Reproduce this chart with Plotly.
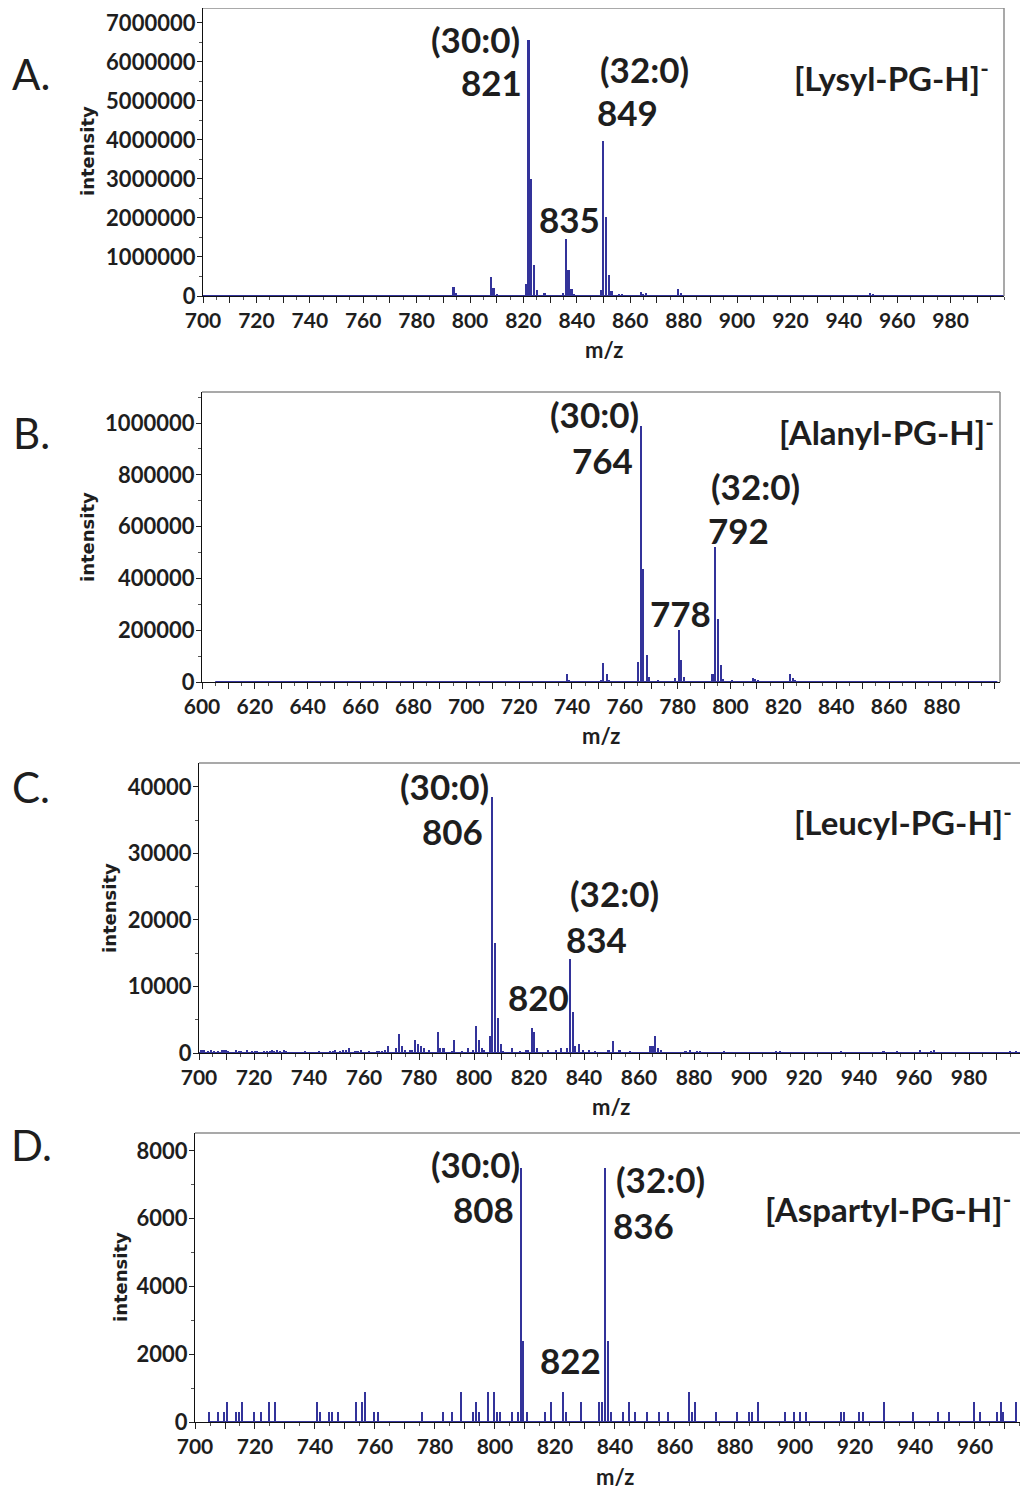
import plotly.graph_objects as go

# page is rendered with an 8px body margin: work in page pixels, shift by 8
OFF = 8
W, H = 1028 - OFF, 1490 - OFF
BAR = "#33339a"
TXT = "#1e1e1e"

# ---------------- data ----------------
A_mz = [793.9, 795.0, 807.9, 808.9, 810.1, 821.1, 822.0, 822.9, 824.0, 825.1,
        828.0, 834.9, 835.9, 837.0, 838.1, 839.0, 849.0, 850.0, 850.9, 852.1,
        853.1, 856.0, 857.0, 864.0, 865.0, 865.9, 878.0, 879.1, 950.0, 950.9]
A_int = [240000, 86000, 488000, 197000, 43000, 300000, 6555000, 2990000, 805000, 154000,
         69000, 69000, 1457000, 660000, 171000, 34000, 163000, 3975000, 2020000, 548000,
         120000, 51000, 34000, 111000, 51000, 69000, 180000, 86000, 68000, 34000]
A_base = [700, 1000]

B_mz = [738.1, 739.1, 751.0, 751.8, 753.2, 754.1, 765.1, 766.1, 767.1, 768.4,
        769.3, 772.5, 779.2, 780.5, 781.2, 782.4, 793.3, 794.3, 795.4, 796.4,
        797.4, 800.7, 808.5, 809.5, 810.5, 822.7, 823.6, 824.6]
B_int = [32000, 6000, 4000, 74000, 30000, 4000, 78000, 988000, 438000, 106000,
         19000, 4000, 14000, 202000, 84000, 19000, 30000, 521000, 244000, 65000,
         12000, 8000, 17000, 12000, 8000, 32000, 14000, 4000]
B_base = [605, 901]

C_mz = [700.7, 701.2, 701.8, 703.4, 704.6, 705.6, 707.0, 708.3, 709.1, 709.8,
        710.7, 713.7, 714.7, 715.5, 717.7, 719.5, 720.4, 721.2, 723.7, 724.9,
        725.8, 726.7, 727.4, 728.6, 729.5, 731.1, 731.9, 738.6, 743.7, 747.7,
        748.7, 749.6, 751.3, 752.5, 753.4, 754.7, 757.0, 757.8, 758.9, 761.8,
        764.7, 765.7, 766.5, 767.7, 768.8, 771.7, 772.8, 773.8, 775.1, 776.8,
        777.7, 778.8, 779.6, 780.7, 781.9, 783.9, 786.9, 787.7, 789.0, 792.0,
        792.8, 795.6, 797.8, 799.9, 800.8, 801.8, 802.9, 803.8, 806.0, 806.8,
        807.8, 808.7, 809.8, 810.8, 813.8, 816.9, 819.1, 819.9, 821.1, 822.0,
        822.9, 826.9, 829.9, 831.7, 833.9, 835.1, 836.0, 836.9, 838.1, 839.9,
        842.0, 844.2, 849.0, 850.8, 853.0, 856.7, 864.2, 865.0, 866.0, 867.0,
        868.1, 877.0, 878.8, 881.2, 882.4, 890.9, 910.0, 911.2, 933.4, 949.0,
        954.0, 962.1, 966.2, 967.2, 995.0, 997.2]
C_int = [500, 500, 500, 200, 500, 200, 200, 500, 500, 500,
         200, 500, 200, 200, 500, 200, 200, 200, 200, 200,
         200, 500, 300, 500, 200, 500, 200, 200, 200, 200,
         200, 500, 200, 500, 500, 750, 200, 200, 500, 200,
         200, 200, 200, 500, 1100, 750, 2850, 1100, 500, 500,
         500, 1950, 1350, 1100, 750, 500, 3200, 750, 750, 200,
         1950, 200, 750, 500, 4100, 1950, 750, 500, 2600, 38500,
         16500, 5250, 1350, 200, 750, 200, 500, 500, 3750, 3200,
         750, 500, 500, 750, 750, 14200, 6100, 1100, 1350, 500,
         500, 200, 500, 1750, 500, 200, 1100, 1100, 2600, 750,
         500, 200, 500, 200, 200, 200, 200, 200, 200, 200,
         200, 500, 200, 500, 200, 200]
C_base = [700, 1000]

D_mz = [704.8, 707.8, 709.9, 710.7, 713.7, 714.8, 715.9, 719.8, 722.1, 724.9,
        726.8, 740.7, 741.7, 744.8, 745.9, 747.8, 753.7, 755.7, 756.8, 759.8,
        761.1, 775.6, 782.8, 785.8, 788.8, 792.8, 793.7, 794.7, 797.7, 799.7,
        800.7, 801.8, 805.7, 807.8, 808.8, 809.5, 810.8, 816.8, 818.8, 822.8,
        823.7, 828.8, 834.8, 835.7, 836.9, 837.6, 838.7, 842.7, 844.7, 846.8,
        850.7, 854.7, 857.7, 864.8, 865.7, 866.7, 873.7, 880.7, 884.8, 885.8,
        887.8, 896.7, 899.7, 901.7, 903.7, 915.5, 916.6, 921.5, 922.7, 929.7,
        939.5, 947.7, 951.5, 959.7, 961.7, 967.6, 968.8, 969.6, 973.7]
D_int = [300, 300, 300, 600, 300, 300, 600, 300, 300, 600,
         600, 600, 300, 300, 300, 300, 600, 600, 900, 300,
         300, 300, 300, 300, 900, 300, 600, 300, 900, 900,
         300, 300, 300, 300, 7500, 2400, 300, 300, 600, 900,
         300, 600, 600, 600, 7500, 2400, 300, 300, 600, 300,
         300, 300, 300, 900, 300, 600, 300, 300, 300, 300,
         600, 300, 300, 300, 300, 300, 300, 300, 300, 600,
         300, 300, 300, 600, 300, 300, 600, 300, 600]
D_base = [704.8, 974]

for a, b in [(A_mz, A_int), (B_mz, B_int), (C_mz, C_int), (D_mz, D_int)]:
    assert len(a) == len(b), (len(a), len(b))

# ---------------- panel layout (page pixels) ----------------
panels = [
    dict(mz=A_mz, it=A_int, base=A_base, box=(203, 1004, 8, 296),
         xr=[700, 1000], xlab=(700, 980), yr=[0, 7.38e6], dy=1e6, bw=0.6),
    dict(mz=B_mz, it=B_int, base=B_base, box=(202, 1000, 392, 682),
         xr=[600, 902], xlab=(600, 880), yr=[0, 1.12e6], dy=2e5, bw=0.6),
    dict(mz=C_mz, it=C_int, base=C_base, box=(199, 1024, 763, 1053),
         xr=[700, 1000], xlab=(700, 980), yr=[0, 43600], dy=10000, bw=0.55),
    dict(mz=D_mz, it=D_int, base=D_base, box=(195, 1028, 1133, 1422),
         xr=[700, 977.7], xlab=(700, 960), yr=[0, 8531], dy=2000, bw=0.5),
]

fig = go.Figure()
layout = dict(width=W, height=H, margin=dict(l=0, r=0, t=0, b=0, pad=0, autoexpand=False),
              paper_bgcolor="white", plot_bgcolor="white", showlegend=False,
              bargap=0)
shapes = []
tickfont = dict(family="Lato", size=21, color=TXT, weight="bold")
ytickfont = dict(family="Lato", size=22, color=TXT, weight="bold")


def clamp(v):
    return min(max(v, 0.0), 1.0)


def fx(px):
    return (px - OFF) / W


def fy(py):
    return 1 - (py - OFF) / H


for i, p in enumerate(panels, start=1):
    sx = "" if i == 1 else str(i)
    l, r, t, b = p["box"]
    xdom = [clamp(fx(l)), clamp(fx(r))]
    ydom = [clamp(fy(b)), clamp(fy(t))]
    fig.add_trace(go.Scatter(x=p["base"], y=[0, 0], mode="lines",
                             line=dict(color=BAR, width=2), cliponaxis=False,
                             hoverinfo="skip", xaxis="x" + sx, yaxis="y" + sx))
    fig.add_trace(go.Bar(x=p["mz"], y=p["it"], width=p["bw"],
                         marker=dict(color=BAR, line=dict(width=0)),
                         xaxis="x" + sx, yaxis="y" + sx))
    lo, hi = p["xlab"]
    tv = list(range(int(p["xr"][0]), int(p["xr"][1]), 10))
    tt = [str(v) if (v - lo) % 20 == 0 and v <= hi else "" for v in tv]
    layout["xaxis" + sx] = dict(
        domain=xdom, anchor="y" + sx, range=p["xr"], tickmode="array",
        tickvals=tv, ticktext=tt, ticks="outside", ticklen=6, tickwidth=1,
        tickcolor="#222", showline=True, linecolor="#111", linewidth=1.3,
        showgrid=False, zeroline=False, tickfont=tickfont, layer="below traces",
        automargin=False,
        minor=dict(dtick=5, tick0=0, ticks="outside", ticklen=3,
                   tickcolor="#555", showgrid=False))
    layout["yaxis" + sx] = dict(
        domain=ydom, anchor="x" + sx, range=p["yr"], tickmode="linear",
        tick0=0, dtick=p["dy"], tickformat="d", ticks="outside", ticklen=5,
        tickwidth=1, tickcolor="#222", showline=True, linecolor="#111",
        linewidth=1.3, showgrid=False, zeroline=False, tickfont=ytickfont,
        layer="below traces", automargin=False, ticklabelstandoff=-3,
        minor=dict(dtick=p["dy"] / 2, ticks="outside", ticklen=3,
                   tickcolor="#555", showgrid=False))
    shapes.append(dict(type="line", xref="x" + sx + " domain", yref="y" + sx + " domain",
                       x0=0, x1=1, y0=1, y1=1, line=dict(color="#8c8c8c", width=1.5)))
    if r < 1028:
        shapes.append(dict(type="line", xref="x" + sx + " domain", yref="y" + sx + " domain",
                           x0=1, x1=1, y0=0, y1=1, line=dict(color="#8c8c8c", width=1.5)))

layout["shapes"] = shapes
fig.update_layout(**layout)


def ann(text, cx, cy, size, weight="bold", family="Lato", angle=0):
    fig.add_annotation(text=text, x=fx(cx), y=fy(cy), xref="paper", yref="paper",
                       xanchor="center", yanchor="middle", showarrow=False,
                       textangle=angle,
                       font=dict(family=family, size=size, color=TXT, weight=weight))


PK = 35   # peak label size
SP = 33   # species label size

for letter, cy in [("A.", 74), ("B.", 433), ("C.", 787), ("D.", 1145)]:
    ann(letter, 31, cy, 42, weight="normal")

ann("(30:0)", 475, 39, PK); ann("821", 491, 82, PK)
ann("(32:0)", 644, 69, PK); ann("849", 627, 112, PK)
ann("835", 569, 219, PK)
ann("[Lysyl-PG-H]<sup>-</sup>", 891, 76, SP)

ann("(30:0)", 594, 414, PK); ann("764", 602, 460, PK)
ann("(32:0)", 755, 486, PK); ann("792", 738, 530, PK)
ann("778", 680, 613, PK)
ann("[Alanyl-PG-H]<sup>-</sup>", 886, 430, SP)

ann("(30:0)", 444, 786, PK); ann("806", 452, 831, PK)
ann("(32:0)", 614, 893, PK); ann("834", 596, 939, PK)
ann("820", 538, 997, PK)
ann("[Leucyl-PG-H]<sup>-</sup>", 903, 820, SP)

ann("(30:0)", 475, 1164, PK); ann("808", 483, 1209, PK)
ann("(32:0)", 660, 1179, PK); ann("836", 643, 1225, PK)
ann("822", 570, 1360, PK)
ann("[Aspartyl-PG-H]<sup>-</sup>", 888, 1207, SP)

for cx, cy in [(88, 151), (87, 537), (110, 908), (120, 1277)]:
    ann("intensity", cx, cy, 18, family="DejaVu Sans", angle=-90)
for cx, cy in [(604, 349), (601, 735), (611, 1106), (615, 1476)]:
    ann("m/z", cx, cy, 22)

fig.write_html("out.html")
